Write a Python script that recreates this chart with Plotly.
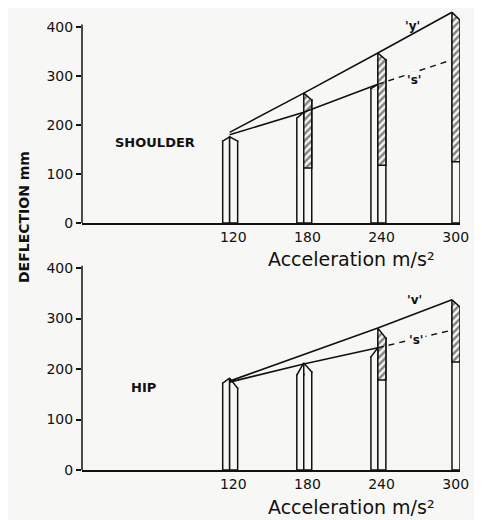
import plotly.graph_objects as go

# ---------------- data ----------------
ACCEL = [120, 180, 240, 300]
Y_TICKS = [0, 100, 200, 300, 400]

# Shoulder panel
SH_S_BAR = [167, 214, 274, None]      # left ("s") bar height
SH_S_TIP = [176, 226, 283, None]      # left bar pointed tip
SH_Y_BAR = [167, 251, 333, 414]       # right ("y") bar height
SH_Y_TIP = [176, 265, 347, 430]       # right bar pointed tip
SH_HATCH_LOW = [None, 112, 118, 125]  # bottom of hatched part
SH_Y_LINE = [185, 265, 347, 430]
SH_S_LINE = [180, 226, 283]
SH_S_EXT = 333

# Hip panel
HIP_S_BAR = [172, 188, 224, None]
HIP_S_TIP = [182, 212, 242, None]
HIP_Y_BAR = [162, 194, 261, 323]
HIP_Y_TIP = [182, 212, 281, 337]
HIP_HATCH_LOW = [None, None, 178, 214]
HIP_Y_LINE = [176, None, 281, 337]
HIP_S_LINE = [174, 210, 242]
HIP_S_EXT = 277

# ---------------- style ----------------
BG = "#f7f7f5"
INK = "#111111"
LW = 1.5
L_OFF, L_W = -8.6, 5.6
R_OFF, R_W = -3.0, 6.5
COVER = 2.0
FONT = "DejaVu Sans"
PATTERN = dict(shape="/", fgcolor=INK, bgcolor=BG, size=5, solidity=0.5)
W, H = 482, 520
PAGE_PAD = 8  # page body margin of the browser


def px_x(sx):
    return (sx - PAGE_PAD) / W


def px_y(sy):
    return 1 - (sy - PAGE_PAD) / H


def panel(xa, ya, s_bar, s_tip, y_bar, y_tip, hatch_low, y_line, s_line, s_ext):
    bars, shapes = [], []
    xs = [a for a, v in zip(ACCEL, s_bar) if v is not None]
    vs = [v for v in s_bar if v is not None]
    bars.append(go.Bar(x=xs, y=vs, offset=L_OFF, width=L_W, xaxis=xa, yaxis=ya,
                       marker=dict(color=BG, line=dict(color=INK, width=LW))))
    bars.append(go.Bar(x=ACCEL, y=y_bar, offset=R_OFF, width=R_W, xaxis=xa, yaxis=ya,
                       marker=dict(color=BG, line=dict(color=INK, width=LW))))
    hx = [a for a, l in zip(ACCEL, hatch_low) if l is not None]
    hb = [l for l in hatch_low if l is not None]
    hh = [yb - l for yb, l in zip(y_bar, hatch_low) if l is not None]
    bars.append(go.Bar(x=hx, y=hh, base=hb, offset=R_OFF, width=R_W, xaxis=xa, yaxis=ya,
                       marker=dict(color=BG, pattern=PATTERN, line=dict(color=INK, width=LW))))
    # pointed tips of left bars
    for a, sh, tp in zip(ACCEL, s_bar, s_tip):
        if sh is None:
            continue
        xl = a + L_OFF
        xr = xl + L_W
        px = [xl, xl, xr, xr]
        py = [sh - COVER, sh, tp, sh - COVER]
        shapes.append(go.Scatter(x=px + [xl], y=py + [sh - COVER], fill="toself", fillcolor=BG,
                                 mode="lines", line=dict(width=0), xaxis=xa, yaxis=ya, hoverinfo="skip"))
        shapes.append(go.Scatter(x=px, y=py, mode="lines", line=dict(color=INK, width=LW),
                                 xaxis=xa, yaxis=ya, hoverinfo="skip"))
    # pointed tips of right bars
    for a, sh, tp, hl in zip(ACCEL, y_bar, y_tip, hatch_low):
        xl = a + R_OFF
        xr = xl + R_W
        px = [xl, xl, xr, xr]
        py = [sh - COVER, tp, sh, sh - COVER]
        kw = dict(fillcolor=BG)
        if hl is not None:
            kw = dict(fillpattern=PATTERN, fillcolor=BG)
        shapes.append(go.Scatter(x=px + [xl], y=py + [sh - COVER], fill="toself", mode="lines",
                                 line=dict(width=0), xaxis=xa, yaxis=ya, hoverinfo="skip", **kw))
        shapes.append(go.Scatter(x=px, y=py, mode="lines", line=dict(color=INK, width=LW),
                                 xaxis=xa, yaxis=ya, hoverinfo="skip"))
    # connecting lines
    lx = [a + R_OFF for a in ACCEL]
    shapes.append(go.Scatter(x=lx, y=y_line, mode="lines", connectgaps=True,
                             line=dict(color=INK, width=1.6), xaxis=xa, yaxis=ya))
    shapes.append(go.Scatter(x=lx[:len(s_line)], y=s_line, mode="lines",
                             line=dict(color=INK, width=1.6), xaxis=xa, yaxis=ya))
    shapes.append(go.Scatter(x=[lx[len(s_line) - 1], lx[-1]], y=[s_line[-1], s_ext], mode="lines",
                             line=dict(color=INK, width=1.4, dash="6px,5px"), xaxis=xa, yaxis=ya))
    return bars, shapes


b1, s1 = panel("x", "y", SH_S_BAR, SH_S_TIP, SH_Y_BAR, SH_Y_TIP, SH_HATCH_LOW,
               SH_Y_LINE, SH_S_LINE, SH_S_EXT)
b2, s2 = panel("x2", "y2", HIP_S_BAR, HIP_S_TIP, HIP_Y_BAR, HIP_Y_TIP, HIP_HATCH_LOW,
               HIP_Y_LINE, HIP_S_LINE, HIP_S_EXT)

fig = go.Figure(data=b1 + b2 + s1 + s2)

XDOM = [px_x(82), px_x(460)]
XRANGE = [-2.5, 303.5]
tickfont = dict(family=FONT, size=14, color=INK)


def xax(anchor):
    return dict(domain=XDOM, range=XRANGE, tickvals=ACCEL, ticktext=[str(a) for a in ACCEL],
                showline=True, linecolor=INK, linewidth=1.5, showgrid=False, zeroline=False,
                ticks="", tickfont=tickfont, anchor=anchor, fixedrange=True, automargin=False)


def yax(dom, rng, anchor):
    return dict(domain=dom, range=rng, tickvals=Y_TICKS, showline=False, showgrid=False,
                zeroline=False, ticks="outside", ticklen=5, tickwidth=1.5, tickcolor=INK,
                tickfont=tickfont, anchor=anchor, fixedrange=True, automargin=False)


def ann(text, sx, sy, font, **kw):
    return dict(text=text, x=px_x(sx), y=px_y(sy), xref="paper", yref="paper",
                xanchor="center", yanchor="middle", showarrow=False, font=font, **kw)


ann_font = dict(family=FONT, size=19, color=INK)
label_font = dict(family=FONT, size=13, color=INK, weight="bold")
axis_label_font = dict(family=FONT, size=14, color=INK, weight="bold")
small_bold = dict(family=FONT, size=12, color=INK, weight="bold")

Y1_TOP = 435
Y2_TOP = 405
y1_bottom = px_y(223)
y2_bottom = px_y(470)
fig.update_layout(
    width=W, height=H,
    margin=dict(l=0, r=0, t=0, b=0, pad=0, autoexpand=False),
    paper_bgcolor=BG, plot_bgcolor=BG,
    showlegend=False, barmode="overlay",
    xaxis=xax("y"),
    yaxis=yax([y1_bottom, min(1.0, y1_bottom + Y1_TOP * 0.49 / H)], [0, Y1_TOP], "x"),
    xaxis2=xax("y2"),
    yaxis2=yax([y2_bottom, y2_bottom + Y2_TOP * 0.505 / H], [0, Y2_TOP], "x2"),
    shapes=[
        dict(type="line", xref="x domain", yref="y", x0=0, x1=0, y0=0, y1=405,
             line=dict(color=INK, width=1.5)),
        dict(type="line", xref="x2 domain", yref="y2", x0=0, x1=0, y0=0, y1=405,
             line=dict(color=INK, width=1.5)),
    ],
    annotations=[
        ann("DEFLECTION mm", 24, 217, axis_label_font, textangle=-90),
        ann("Acceleration m/s²", 351, 259, ann_font),
        ann("Acceleration m/s²", 351, 507, ann_font),
        ann("SHOULDER", 155, 142, label_font),
        ann("HIP", 143, 387, label_font),
        ann("'y'", 412, 26, small_bold),
        ann("'s'", 414, 80, small_bold, bgcolor=BG),
        ann("'v'", 414, 300, small_bold),
        ann("'s'", 416, 340, small_bold, bgcolor=BG),
    ],
)

fig.write_html("out.html")
